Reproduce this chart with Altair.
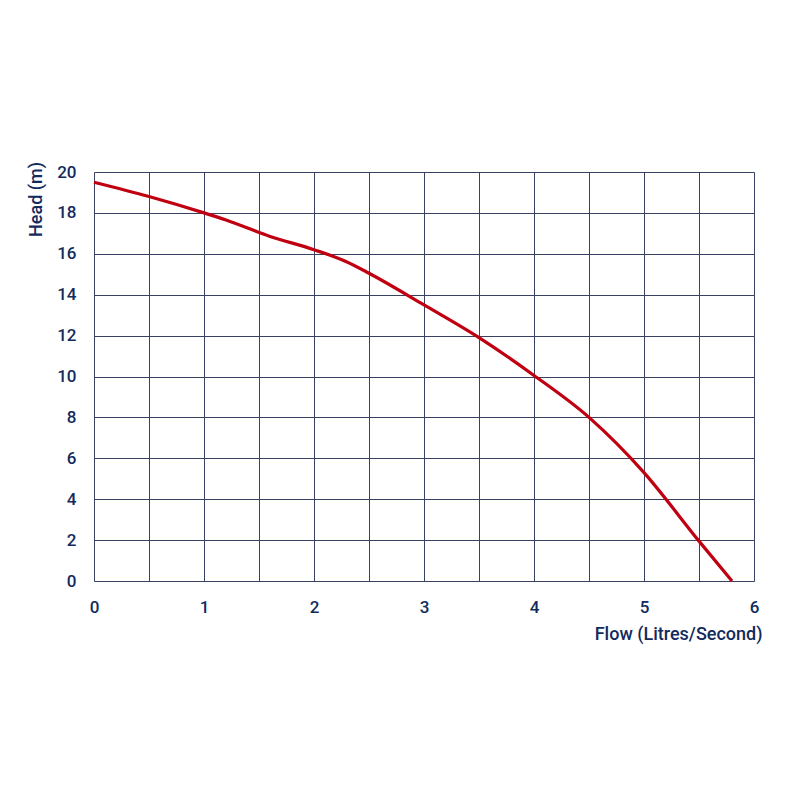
import altair as alt
import pandas as pd

flow = [0.0, 0.5, 1.0, 1.2, 1.6, 2.0, 2.3, 2.5, 3.0, 3.5, 4.0, 4.5, 5.0, 5.5, 5.8]
head = [19.5, 18.8, 18.0, 17.65, 16.85, 16.2, 15.6, 15.05, 13.5, 11.9, 10.05, 8.0, 5.3, 1.95, 0.0]

x_ticks = [0, 0.5, 1, 1.5, 2, 2.5, 3, 3.5, 4, 4.5, 5, 5.5, 6]
y_ticks = [0, 2, 4, 6, 8, 10, 12, 14, 16, 18, 20]

df = pd.DataFrame({"flow": flow, "head": head})

NAVY = "#122a5c"
FONT = "Roboto, sans-serif"

line = alt.Chart(df).mark_line(color="#c00010", strokeWidth=3.2, interpolate="monotone").encode(
    x=alt.X("flow:Q", scale=alt.Scale(domain=[0, 6], nice=False),
            axis=alt.Axis(values=x_ticks, title="Flow (Litres/Second)",
                          labelExpr="datum.value % 1 == 0 ? format(datum.value, 'd') : ''",
                          labelFlush=False, labelOverlap=False,
                          grid=True, gridColor="#3a4262", gridWidth=1, gridOpacity=1,
                          ticks=False, domain=False, labelPadding=18,
                          labelFontSize=17, labelFont=FONT, labelFontWeight=500, labelColor=NAVY,
                          titleFont=FONT, titleFontSize=18, titleFontWeight=500, titleColor=NAVY,
                          titleAlign="right", titleBaseline="middle", titleX=668, titleY=53,
                          titleAnchor="end")),
    y=alt.Y("head:Q", scale=alt.Scale(domain=[0, 20], nice=False),
            axis=alt.Axis(values=y_ticks, title="Head (m)",
                          labelFlush=False, labelOverlap=False,
                          grid=True, gridColor="#3a4262", gridWidth=1, gridOpacity=1,
                          ticks=False, domain=False, labelPadding=18,
                          labelFontSize=17, labelFont=FONT, labelFontWeight=500, labelColor=NAVY,
                          titleFont=FONT, titleFontSize=18, titleFontWeight=500, titleColor=NAVY,
                          titleAngle=270, titleAlign="center", titleBaseline="middle",
                          titleX=-58, titleY=27)),
)

chart = line.properties(
    width=660, height=409,
    autosize=alt.AutoSizeParams(type="none"),
    padding={"left": 86, "top": 164, "right": 30, "bottom": 200},
).configure_view(stroke=NAVY, strokeWidth=2.5).configure(background="white")

chart.save("out.html", embed_options={"renderer": "svg", "actions": False})
